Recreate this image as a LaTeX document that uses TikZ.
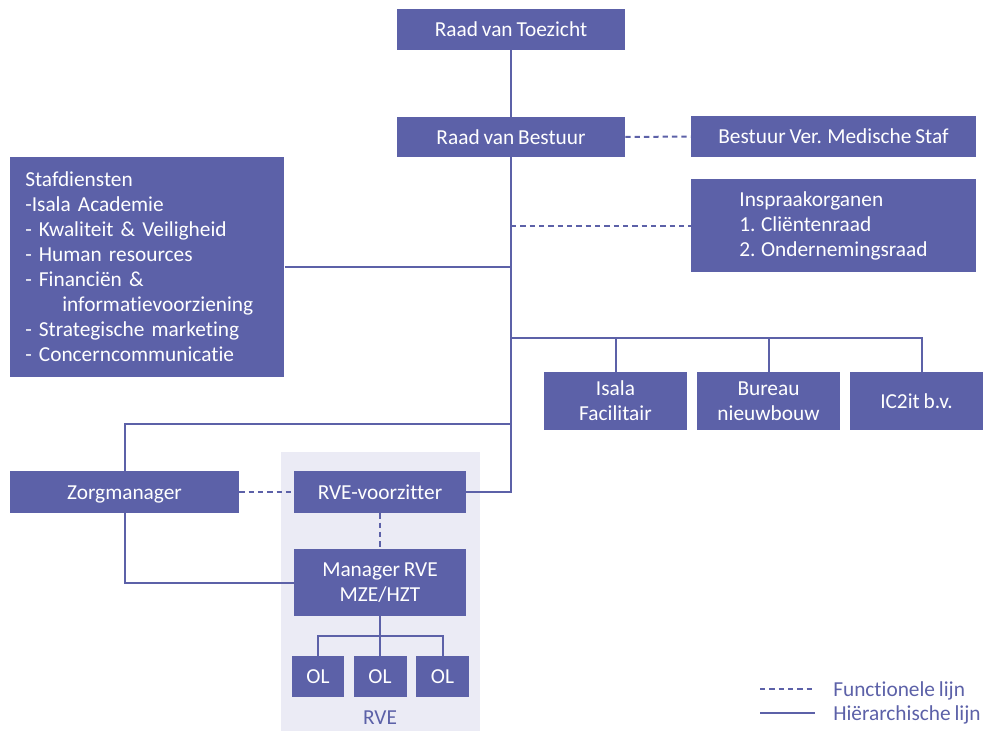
\documentclass[tikz,border=0pt]{standalone}
\usepackage{fontspec}
\setmainfont{Carlito}[RawFeature=-liga,WordSpace=0.8]
\definecolor{boxc}{RGB}{92,97,168}
\definecolor{bgc}{RGB}{235,235,245}
\begin{document}
\begin{tikzpicture}[x=0.75pt,y=-0.75pt,
  box/.style={fill=boxc,text=white,inner sep=0pt,font=\fontsize{16pt}{18.75pt}\selectfont,align=center},
  one/.style={text height=13pt,text depth=2pt},
  hline/.style={draw=boxc,line width=1.5pt},
  fline/.style={draw=boxc,line width=1.5pt,dash pattern=on 4pt off 3pt},
  legtext/.style={text=boxc,font=\fontsize{16pt}{18.75pt}\selectfont,anchor=west,inner sep=0pt}]
\useasboundingbox (0,0) rectangle (984,731);
% RVE background
\fill[bgc] (281,452) rectangle (480,731);
\node[text=boxc,font=\fontsize{16pt}{18.75pt}\selectfont,inner sep=0pt,one] (rvelabel) at (380,717) {RVE};

% nodes
\node[box,one,minimum width=171pt,minimum height=30.75pt] (rvt) at (511,29.5) {Raad van Toezicht};
\node[box,one,minimum width=171pt,minimum height=30pt] (rvb) at (511,137) {Raad van Bestuur};
\node[box,one,minimum width=213.75pt,minimum height=30.75pt] (bvms) at (833.5,136.5) {Bestuur Ver. Medische Staf};
\node[box,align=left,minimum width=213.75pt,minimum height=69.75pt] (insp) at (833.5,225.5) {Inspraakorganen\\1. Cliëntenraad\\2. Ondernemingsraad};
\node[box,align=left,anchor=north west,text width=183pt,inner xsep=11.25pt,minimum height=165pt] (staf) at (10,156.5) {Stafdiensten\\-Isala Academie\\- Kwaliteit \& Veiligheid\\- Human resources\\- Financiën \&\\\hspace*{27.75pt}informatievoorziening\\- Strategische marketing\\- Concerncommunicatie};
\node[box,minimum width=107.25pt,minimum height=43.5pt] (isala) at (615.5,401) {Isala\\Facilitair};
\node[box,minimum width=107.25pt,minimum height=43.5pt] (bureau) at (768.5,401) {Bureau\\nieuwbouw};
\node[box,one,minimum width=99.75pt,minimum height=43.5pt] (ic2it) at (916.5,401) {IC2it b.v.};
\node[box,one,minimum width=171.75pt,minimum height=31.5pt] (zorg) at (124.5,492) {Zorgmanager};
\node[box,one,minimum width=129pt,minimum height=31.5pt] (rvev) at (380,492) {RVE-voorzitter};
\node[box,minimum width=129pt,minimum height=50.25pt] (mgr) at (380,582.5) {Manager RVE\\MZE/HZT};
\node[box,one,minimum width=39pt,minimum height=30.75pt] (ol1) at (318,676.5) {OL};
\node[box,one,minimum width=39.75pt,minimum height=30.75pt] (ol2) at (380,676.5) {OL};
\node[box,one,minimum width=39.75pt,minimum height=30.75pt] (ol3) at (442.5,676.5) {OL};

% helper coordinates
\coordinate (busy) at (0,338);
\coordinate (zy) at (0,424);
\coordinate (ictop) at (922,372);
\coordinate (olbus) at (380,636);

% connectors
\draw[hline] (rvt.south) -- (rvb.north);
\draw[fline] (rvb.east) -- (bvms.west);
\draw[hline] (rvb.south) |- (rvev.east);
\draw[hline] (staf.east) -- (staf.east -| rvb.south);
\draw[fline] (insp.west -| rvb.south) -- (insp.west);
\draw[hline] (rvb.south |- busy) -| (isala.north);
\draw[hline] (rvb.south |- busy) -| (bureau.north);
\draw[hline] (rvb.south |- busy) -| (ictop);
\draw[hline] (rvb.south |- zy) -| (zorg.north);
\draw[hline] (zorg.south) |- (mgr.west);
\draw[fline] (zorg.east) -- (rvev.west);
\draw[fline] (rvev.south) -- (mgr.north);
\draw[hline] (mgr.south) -- (olbus);
\draw[hline] (olbus) -| (ol1.north);
\draw[hline] (olbus) -| (ol3.north);
\draw[hline] (olbus) -- (ol2.north);

% legend
\coordinate (lf1) at (760,689);
\coordinate (lf2) at (815,689);
\coordinate (lh1) at (760,713);
\coordinate (lh2) at (815,713);
\draw[fline] (lf1) -- (lf2);
\draw[hline] (lh1) -- (lh2);
\node[legtext,one] (lft) at (833,689) {Functionele lijn};
\node[legtext,one] (lht) at (833,713) {Hiërarchische lijn};
\end{tikzpicture}
\end{document}
